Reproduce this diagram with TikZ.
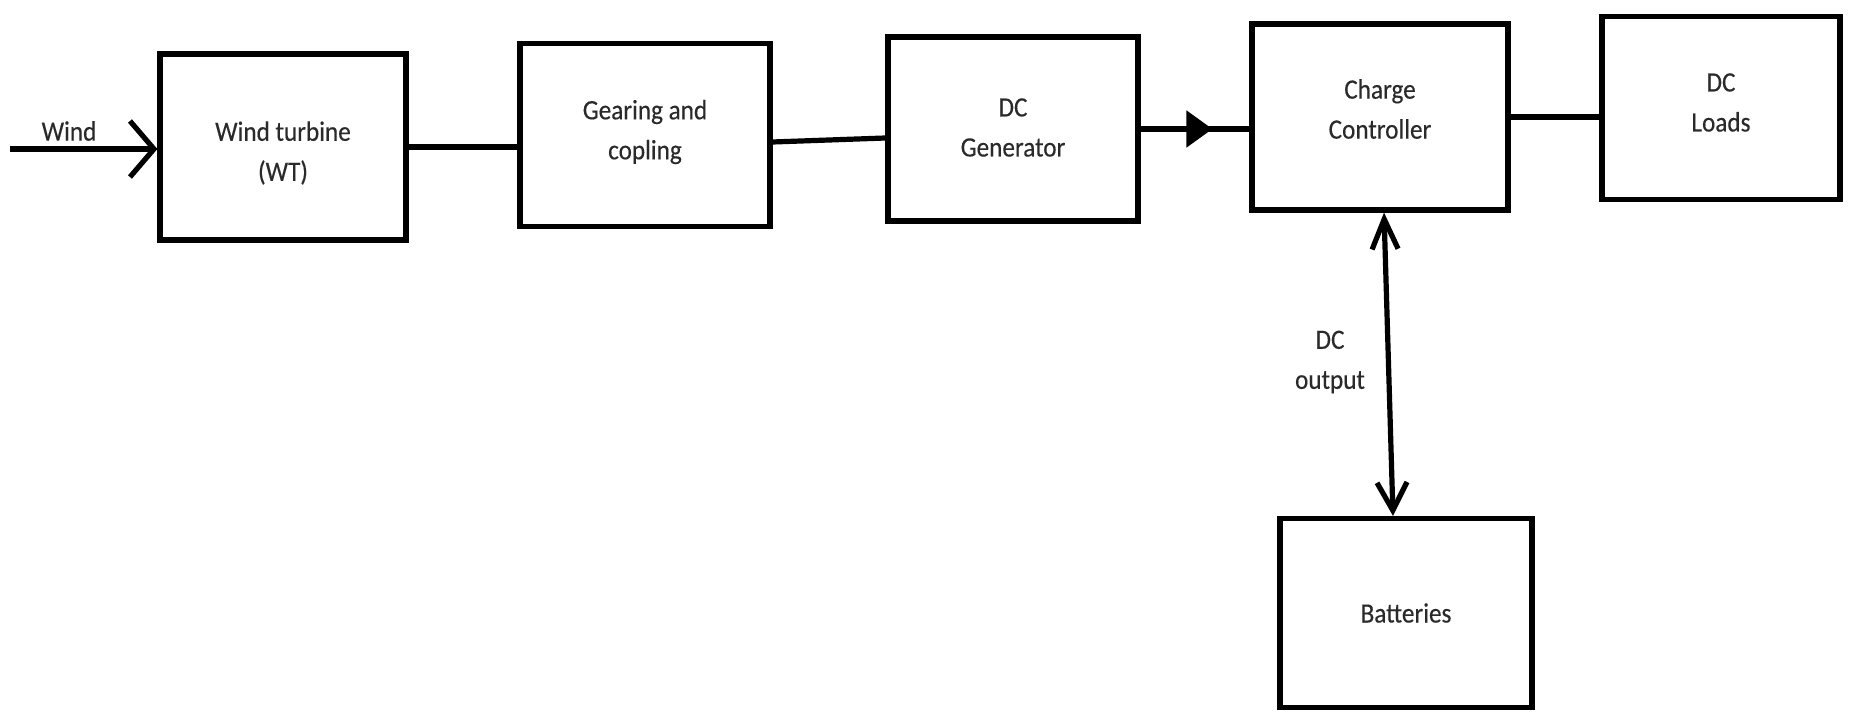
\documentclass[tikz,border=0pt]{standalone}
\usepackage{fontspec}
\setmainfont{Carlito}[FakeStretch=0.9,FakeBold=0.3]
\usetikzlibrary{arrows.meta,decorations.markings}
\definecolor{txt}{HTML}{2A2A2A}
\begin{document}
\begin{tikzpicture}[x=0.5pt,y=-0.5pt,
  blk/.style={draw=black, line width=2.6pt, inner sep=0pt},
  lbl/.style={align=center, text=txt, font=\fontsize{14pt}{20pt}\selectfont, inner sep=0pt},
  conn/.style={draw=black, line width=2.6pt},
  barb/.style={-{Straight Barb[length=12pt,width=28pt]}},
  dbarb/.style={{Straight Barb[length=15pt,width=13pt]}-{Straight Barb[length=14pt,width=15pt]}}]
\useasboundingbox (0,0) rectangle (1853,716);
\fill[white] (0,0) rectangle (1853,716);

\node[blk, minimum width=123pt, minimum height=93pt] (wt) at (283,147) {};
\node[blk, minimum width=125pt, minimum height=91.5pt] (gear) at (645,135) {};
\node[blk, minimum width=125pt, minimum height=92pt] (dcg) at (1013,129) {};
\node[blk, minimum width=128pt, minimum height=93pt] (cc) at (1380,117) {};
\node[blk, minimum width=119pt, minimum height=91.5pt] (loads) at (1721,108) {};
\node[blk, minimum width=126pt, minimum height=94.5pt] (bat) at (1406,613) {};

\node[lbl, yshift=-3pt] (wtt) at (wt) {Wind turbine\\(WT)};
\node[lbl, yshift=1.5pt] (geart) at (gear) {Gearing and\\copling};
\node[lbl, yshift=0.75pt] (dcgt) at (dcg) {DC\\Generator};
\node[lbl, yshift=4pt] (cct) at (cc) {Charge\\Controller};
\node[lbl, yshift=2.75pt] (loadst) at (loads) {DC\\Loads};
\node[lbl] (batt) at (bat) {Batteries};

\coordinate (windin) at (10,149);
\node[lbl] (windlbl) at (69,131) {Wind};
\node[lbl] (dcout) at (1330,362) {DC\\output};

\draw[conn, barb] (windin) -- (windin -| wt.west);
\draw[conn] (wt.east) -- (wt.east -| gear.west);
\draw[conn] ([yshift=-3.5pt]gear.east) -- ([yshift=-4.5pt]dcg.west);
\draw[conn, postaction={decorate}, decoration={markings,
  mark=at position 0.66 with {\arrow{Triangle[length=13pt,width=18pt]}}}]
  (dcg.east) -- (dcg.east -| cc.west);
\draw[conn] (cc.east) -- (cc.east -| loads.west);
\draw[conn, dbarb] ([xshift=2pt]cc.south) -- ([xshift=-6.5pt]bat.north);
\end{tikzpicture}
\end{document}
